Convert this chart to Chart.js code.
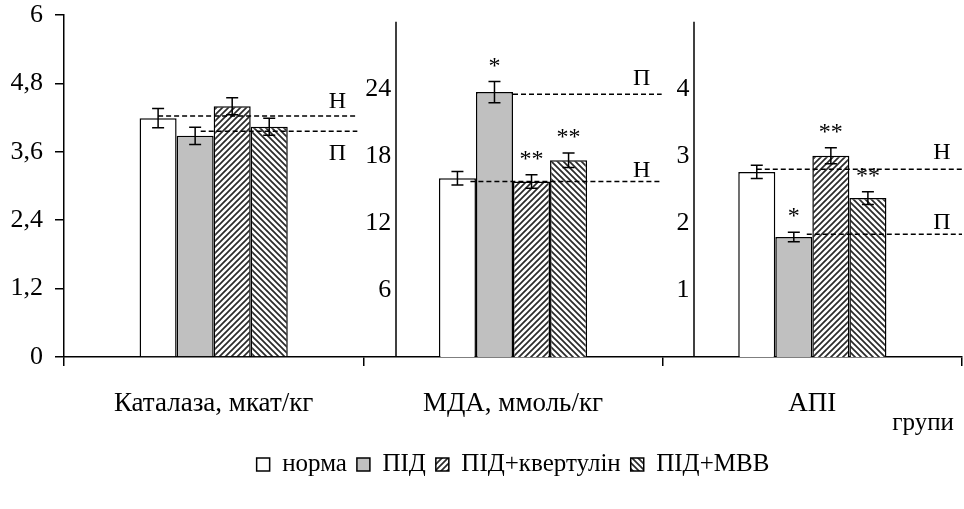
<!DOCTYPE html>
<html>
<head>
<meta charset="utf-8">
<script src="https://cdn.jsdelivr.net/npm/chart.js@4"></script>
<style>
  html, body { margin: 0; padding: 0; background: #fff; }
</style>
</head>
<body>
<canvas id="chart" width="964" height="509"></canvas>
<script>
var categories = ["Каталаза, мкат/кг", "МДА, ммоль/кг", "АПІ"];
var groups = ["норма", "ПІД", "ПІД+квертулін", "ПІД+МВВ"];

var catalase = [4.19, 3.88, 4.40, 4.04];
var catalaseErr = [0.17, 0.15, 0.15, 0.15];
var catalaseMarks = ["", "", "", ""];

var mda = [16.0, 23.7, 15.7, 17.6];
var mdaErr = [0.6, 0.95, 0.6, 0.65];
var mdaMarks = ["", "*", "**", "**"];

var api = [2.76, 1.79, 3.0, 2.37];
var apiErr = [0.1, 0.07, 0.12, 0.095];
var apiMarks = ["", "*", "**", "**"];

// dashed reference levels: Н (норма) and П (ПІД) per panel
var levelN = [4.23, 15.7, 2.80];
var levelP = [3.96, 23.5, 1.83];

Chart.defaults.font.family = "'Liberation Serif', 'Times New Roman', serif";
Chart.defaults.color = "#000";

var ctx = document.getElementById("chart").getContext("2d");

function hatch(dir) {
    var c = document.createElement("canvas");
    c.width = 6; c.height = 6;
    var g = c.getContext("2d");
    g.fillStyle = "#fff";
    g.fillRect(0, 0, 6, 6);
    g.strokeStyle = "#2a2a2a";
    g.lineWidth = 1.7;
    g.beginPath();
    if (dir > 0) {
        g.moveTo(-1, 7); g.lineTo(7, -1);
        g.moveTo(-1, 1); g.lineTo(1, -1);
        g.moveTo(5, 7); g.lineTo(7, 5);
    } else {
        g.moveTo(-1, -1); g.lineTo(7, 7);
        g.moveTo(5, -1); g.lineTo(7, 1);
        g.moveTo(-1, 5); g.lineTo(1, 7);
    }
    g.stroke();
    return ctx.createPattern(c, "repeat");
}

var fills = ["#ffffff", "#c0c0c0", hatch(1), hatch(-1)];

var panels = [
    { values: catalase, errors: catalaseErr, marks: catalaseMarks, axis: "y" },
    { values: mda, errors: mdaErr, marks: mdaMarks, axis: "y2" },
    { values: api, errors: apiErr, marks: apiMarks, axis: "y3" }
];

var datasets = [];
panels.forEach(function(p, c) {
    groups.forEach(function(name, g) {
        datasets.push({
            label: name,
            data: categories.map(function(_, i) { return i === c ? p.values[g] : null; }),
            yAxisID: p.axis,
            backgroundColor: fills[g],
            borderColor: "#000",
            borderWidth: 1.5,
            skipNull: true,
            errors: p.errors[g],
            mark: p.marks[g],
            panel: c
        });
    });
});

var midAxes = [{ id: "y2", at: 0.61, top: 30 }, { id: "y3", at: 1.604, top: 5 }];

var refLines = [
    { panel: 0, value: levelN[0], text: "Н", bar: 0, from: 0, dy: -14, cut: 6 },
    { panel: 0, value: levelP[0], text: "П", bar: 1, from: 0.3, dy: 22, cut: 6 },
    { panel: 1, value: levelP[1], text: "П", bar: 1, from: 1, dy: -16, cut: 1 },
    { panel: 1, value: levelN[1], text: "Н", bar: 0, from: 0.7, dy: -11, cut: 1 },
    { panel: 2, value: levelN[2], text: "Н", bar: 0, from: 0, dy: -17, cut: 0 },
    { panel: 2, value: levelP[2], text: "П", bar: 1, from: 0.7, dy: -12, cut: 0 }
];

var overlay = {
    id: "overlay",
    afterDatasetsDraw: function(chart) {
        var c = chart.ctx;
        var xs = chart.scales.x;
        c.save();

        // inner axis lines
        c.strokeStyle = "#000";
        c.lineWidth = 1.5;
        midAxes.forEach(function(a) {
            var x = Math.round(xs.getPixelForValue(a.at));
            var s = chart.scales[a.id];
            c.beginPath();
            c.moveTo(x, s.getPixelForValue(a.top));
            c.lineTo(x, s.getPixelForValue(0));
            c.stroke();
        });

        // error bars and significance marks
        chart.data.datasets.forEach(function(ds, i) {
            var el = chart.getDatasetMeta(i).data[ds.panel];
            var s = chart.scales[ds.yAxisID];
            var v = ds.data[ds.panel];
            var top = s.getPixelForValue(v + ds.errors);
            var bot = s.getPixelForValue(v - ds.errors);
            c.strokeStyle = "#000";
            c.lineWidth = 1.5;
            c.beginPath();
            c.moveTo(el.x, top); c.lineTo(el.x, bot);
            c.moveTo(el.x - 6, top); c.lineTo(el.x + 6, top);
            c.moveTo(el.x - 6, bot); c.lineTo(el.x + 6, bot);
            c.stroke();
            if (ds.mark) {
                c.fillStyle = "#000";
                c.font = "24px 'Liberation Serif', serif";
                c.textAlign = "center";
                c.textBaseline = "alphabetic";
                c.fillText(ds.mark, el.x, top - 9);
            }
        });

        // dashed reference lines
        refLines.forEach(function(r) {
            var ds = chart.data.datasets[r.panel * 4 + r.bar];
            var el = chart.getDatasetMeta(r.panel * 4 + r.bar).data[r.panel];
            var s = chart.scales[ds.yAxisID];
            var y = s.getPixelForValue(r.value);
            var x0 = el.x + el.width / 2 * r.from;
            var x1 = xs.getPixelForValue(r.panel + 0.5) - r.cut;
            c.strokeStyle = "#000";
            c.lineWidth = 1.5;
            c.setLineDash([5, 3]);
            c.beginPath();
            c.moveTo(x0, y); c.lineTo(x1, y);
            c.stroke();
            c.setLineDash([]);
            c.fillStyle = "#000";
            c.font = "24px 'Liberation Serif', serif";
            c.textAlign = "center";
            c.textBaseline = "middle";
            c.fillText(r.text, x1 - 20, y + r.dy);
        });

        c.font = "25px 'Liberation Serif', serif";
        c.textAlign = "right";
        c.textBaseline = "middle";
        c.fillText("групи", xs.right - 8, 423);
        c.restore();
    }
};

function fmtComma(v) {
    if (Number.isInteger(v)) return String(v);
    return v.toFixed(1).replace(".", ",");
}

// small lineHeight keeps the tick labels from pushing the plot area down
var tickFont = { size: 26, lineHeight: 0.1 };

new Chart(ctx, {
    type: "bar",
    data: { labels: categories, datasets: datasets },
    options: {
        responsive: false,
        animation: false,
        devicePixelRatio: 1,
        layout: { padding: { top: 15, left: 0, right: 2, bottom: 22 } },
        datasets: { bar: { categoryPercentage: 0.495, barPercentage: 1 } },
        plugins: {
            tooltip: { enabled: false },
            legend: {
                position: "bottom",
                fullSize: false,
                labels: {
                    filter: function(item) { return item.datasetIndex < 4; },
                    boxWidth: 13,
                    boxHeight: 13,
                    padding: 10,
                    font: { size: 25 },
                    color: "#000"
                }
            }
        },
        scales: {
            x: {
                type: "category",
                offset: true,
                grid: { display: true, drawOnChartArea: false, drawTicks: true, tickLength: 9, color: "#000", lineWidth: 1.5, offset: true },
                border: { display: true, color: "#000", width: 1.5 },
                ticks: { font: { size: 27 }, color: "#000", padding: 22, maxRotation: 0, autoSkip: false },
                afterFit: function(s) { s.height = 85; }
            },
            y: {
                position: "left",
                min: 0,
                max: 6,
                ticks: { stepSize: 1.2, font: tickFont, padding: 12, color: "#000", callback: fmtComma },
                grid: { drawOnChartArea: false, tickLength: 9, color: "#000", lineWidth: 1.5 },
                border: { display: true, color: "#000", width: 1.5 },
                afterFit: function(s) { s.width = 64; }
            },
            y2: {
                position: { x: 0.5935 },
                min: 0,
                max: 30.6,
                ticks: { stepSize: 6, font: tickFont, padding: 0, color: "#000",
                         callback: function(v) { return v > 0 && v < 30 ? v : ""; } },
                grid: { display: false, drawTicks: false },
                border: { display: false }
            },
            y3: {
                position: { x: 1.59 },
                min: 0,
                max: 5.1,
                ticks: { stepSize: 1, font: tickFont, padding: 0, color: "#000",
                         callback: function(v) { return v > 0 && v < 5 ? v : ""; } },
                grid: { display: false, drawTicks: false },
                border: { display: false }
            }
        }
    },
    plugins: [overlay]
});
</script>
</body>
</html>
